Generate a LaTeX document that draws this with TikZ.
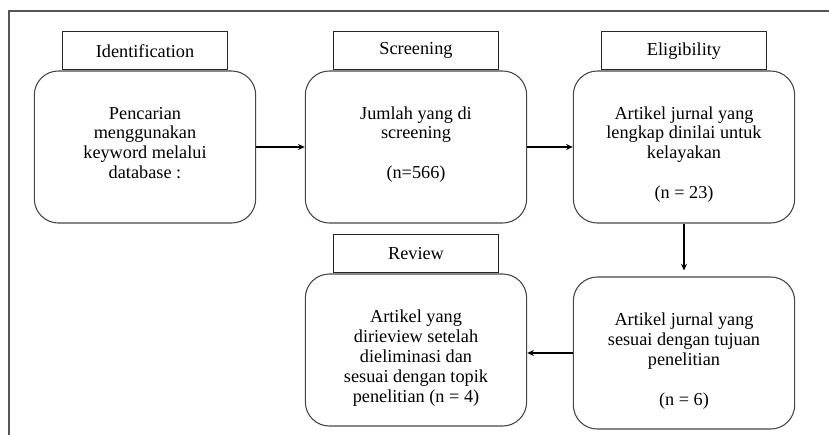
\documentclass[tikz,border=0pt]{standalone}
\usepackage{fontspec}
\setmainfont{Liberation Serif}
\usepackage{tikz}
\usetikzlibrary{positioning, arrows.meta}
\definecolor{framegray}{RGB}{85, 85, 85}
\definecolor{linegray}{RGB}{70, 70, 70}
\newcommand{\boxtext}[1]{\parbox[c][114pt][t]{160pt}{\centering\rule{0pt}{36pt}#1}}

\begin{document}
\begin{tikzpicture}[
    x=0.75pt, y=-0.75pt,
    font=\fontsize{13.7}{15}\selectfont,
    stagebox/.style={rectangle, draw=linegray, line width=0.8pt, rounded corners=18pt, inner sep=0pt, minimum width=166pt, minimum height=114pt},
    stagehead/.style={rectangle, draw=black!85, line width=0.9pt, inner sep=0pt, minimum width=124pt, minimum height=28.5pt},
    flow/.style={-{Stealth[length=5pt, width=4.5pt]}, line width=1.1pt, black}
]
    \useasboundingbox (0,0) rectangle (829,435);
    % outer frame (only top and left edge visible)
    \draw[framegray, line width=1.1pt] (9,435) -- (9,11) -- (829,11);

    \node[stagebox] (ident) at (145, 147) {\boxtext{Pencarian\\ menggunakan\\ keyword melalui\\ database :}};
    \node[stagebox] (screen) at (416, 147) {\boxtext{Jumlah yang di\\ screening\\[15pt] (n=566)}};
    \node[stagebox] (elig) at (684, 147) {\boxtext{Artikel jurnal yang\\ lengkap dinilai untuk\\ kelayakan\\[15pt] (n = 23)}};
    \node[stagebox] (review) at (416, 350) {\boxtext{Artikel yang\\ dirieview setelah\\ dieliminasi dan\\ sesuai dengan topik\\ penelitian (n = 4)}};
    \node[stagebox] (result) at (684, 353) {\boxtext{Artikel jurnal yang\\ sesuai dengan tujuan\\ penelitian\\[15pt] (n = 6)}};

    \node[stagehead, above=0pt of ident] (identhead) {Identification};
    \node[stagehead, above=0pt of screen] (screenhead) {Screening};
    \node[stagehead, above=0pt of elig] (elighead) {Eligibility};
    \node[stagehead, above=0pt of review] (reviewhead) {Review};

    \draw[flow] (ident) -- (screen);
    \draw[flow] (screen) -- (elig);
    \draw[flow, shorten >=4.5pt] (elig) -- (result);
    \draw[flow] (result.west) -- (result.west -| review.east);
\end{tikzpicture}
\end{document}
